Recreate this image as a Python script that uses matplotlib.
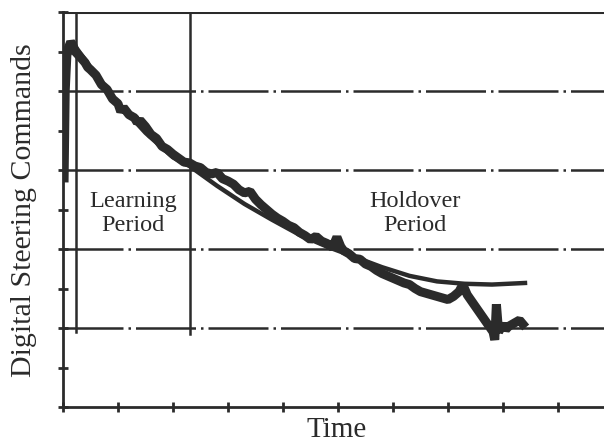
import matplotlib
matplotlib.use("Agg")
import matplotlib.pyplot as plt
import numpy as np

data_t = [0.02, 0.04, 0.07, 0.10, 0.14, 0.18, 0.22, 0.30, 0.40, 0.45, 0.50, 0.60,
          0.70, 0.80, 0.90, 1.00, 1.05, 1.10, 1.20, 1.30, 1.35, 1.40, 1.50, 1.60,
          1.70, 1.80, 1.90, 2.00, 2.10, 2.20, 2.30, 2.40, 2.50, 2.60, 2.70, 2.80,
          2.90, 3.00, 3.10, 3.20, 3.30, 3.40, 3.50, 3.60, 3.70, 3.80, 3.90, 4.00,
          4.10, 4.20, 4.30, 4.40, 4.50, 4.60, 4.70, 4.80, 4.90, 4.98, 5.05, 5.10,
          5.20, 5.30, 5.40, 5.50, 5.60, 5.70, 5.80, 5.90, 6.00, 6.10, 6.20, 6.30,
          6.40, 6.50, 6.60, 6.70, 6.80, 6.90, 7.00, 7.10, 7.20, 7.27, 7.35, 7.45,
          7.55, 7.65, 7.75, 7.82, 7.85, 7.88, 7.92, 8.00, 8.05, 8.10, 8.20, 8.30,
          8.36]
data_v = [2.90, 4.00, 4.45, 4.55, 4.62, 4.58, 4.50, 4.44, 4.36, 4.30, 4.27, 4.20,
          4.08, 4.02, 3.90, 3.84, 3.74, 3.79, 3.70, 3.66, 3.60, 3.63, 3.55, 3.45,
          3.40, 3.30, 3.26, 3.20, 3.15, 3.10, 3.09, 3.05, 3.03, 2.97, 2.95, 2.97,
          2.89, 2.86, 2.82, 2.75, 2.71, 2.73, 2.63, 2.56, 2.50, 2.44, 2.39, 2.35,
          2.30, 2.27, 2.21, 2.17, 2.12, 2.16, 2.10, 2.07, 2.02, 2.15, 2.03, 1.98,
          1.94, 1.88, 1.87, 1.81, 1.78, 1.73, 1.69, 1.66, 1.63, 1.60, 1.57, 1.55,
          1.50, 1.46, 1.44, 1.42, 1.40, 1.38, 1.36, 1.40, 1.46, 1.55, 1.42, 1.32,
          1.22, 1.12, 1.02, 0.95, 0.85, 1.30, 0.95, 1.05, 0.98, 1.02, 1.06, 1.10,
          1.05]

# model fit (learned during learning period, extrapolated in holdover)
model_t = [0.24, 0.50, 1.00, 1.50, 2.00, 2.30, 2.80, 3.30, 3.80, 4.30, 4.80,
           5.30, 5.80, 6.30, 6.80, 7.30, 7.80, 8.40]
model_v = [4.55, 4.30, 3.85, 3.47, 3.16, 3.05, 2.80, 2.57, 2.37, 2.18, 2.03,
           1.90, 1.77, 1.66, 1.59, 1.56, 1.55, 1.57]

learning_start = 0.24
learning_end = 2.31

ink = "#2b2b2b"
serif = ["Liberation Serif", "DejaVu Serif"]

fig = plt.figure(figsize=(6.04, 4.46), dpi=100)
ax = fig.add_axes([63 / 604, 39 / 446, 541 / 604, 395 / 446])

ax.set_xlim(0, 541 / 55)
ax.set_ylim(0, 5)

# horizontal grid lines
for y in [1, 2, 3, 4]:
    ax.axhline(y, color=ink, lw=1.8, dashes=(24, 2, 1, 2))
ax.axhline(5, color=ink, lw=2.2)

# period boundaries
ax.plot([learning_start, learning_start], [0.95, 5], color=ink, lw=1.8)
ax.plot([learning_end, learning_end], [0.92, 4.98], color=ink, lw=1.8)

ax.plot(model_t, model_v, color=ink, lw=3.2)
ax.plot(data_t, data_v, color=ink, lw=6.5, solid_joinstyle="bevel")

ax.text(1.27, 2.45, "Learning\nPeriod", ha="center", va="center",
        fontsize=17.5, family=serif, color=ink, linespacing=1.2)
ax.text(6.4, 2.45, "Holdover\nPeriod", ha="center", va="center",
        fontsize=17.5, family=serif, color=ink, linespacing=1.2)

ax.set_xticks(np.arange(0, 10, 1))
ax.set_yticks(np.arange(0, 5.5, 0.5))
ax.set_xticklabels([])
ax.set_yticklabels([])
ax.tick_params(direction="inout", length=7, width=2, color=ink)

for side in ["top", "right"]:
    ax.spines[side].set_visible(False)
for side in ["left", "bottom"]:
    ax.spines[side].set_linewidth(2)
    ax.spines[side].set_color(ink)

fig.text(337 / 604, 1 - 430 / 446, "Time", ha="center", va="center",
         fontsize=21, family=serif, color=ink)
fig.text(24 / 604, 1 - 210 / 446, "Digital Steering Commands", ha="center",
         va="center", rotation=90, fontsize=21.5, family=serif, color=ink)

fig.savefig("out.png", dpi=100)
